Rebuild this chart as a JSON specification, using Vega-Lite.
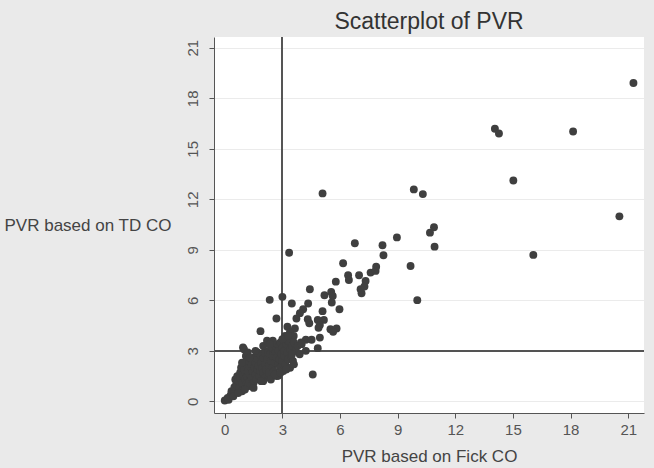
{
  "$schema": "https://vega.github.io/schema/vega-lite/v6.json",
  "autosize": "none",
  "width": 430,
  "height": 376,
  "padding": {"left": 214, "top": 37, "right": 10, "bottom": 55},
  "background": "#eaeaea",
  "title": {
    "text": "Scatterplot of PVR",
    "anchor": "middle",
    "font": "Liberation Sans",
    "fontSize": 23,
    "fontWeight": "normal",
    "color": "#333333",
    "offset": 3
  },
  "config": {
    "view": {"fill": "#ffffff", "stroke": null},
    "axis": {
      "labelFont": "Liberation Sans",
      "titleFont": "Liberation Sans",
      "labelFontSize": 15,
      "titleFontSize": 17,
      "titleFontWeight": "normal",
      "labelColor": "#555555",
      "titleColor": "#444444",
      "domainColor": "#555555",
      "tickColor": "#555555",
      "tickSize": 5
    }
  },
  "data": {
    "values": [
      {"fick": 21.27, "td": 18.91}, {"fick": 14.06, "td": 16.19}, {"fick": 14.27, "td": 15.91}, {"fick": 18.13, "td": 16.03},
      {"fick": 15.02, "td": 13.12}, {"fick": 20.54, "td": 10.99}, {"fick": 16.06, "td": 8.70}, {"fick": 9.84, "td": 12.59},
      {"fick": 10.31, "td": 12.31}, {"fick": 5.09, "td": 12.35}, {"fick": 10.89, "td": 10.34}, {"fick": 10.68, "td": 10.02},
      {"fick": 10.92, "td": 9.19}, {"fick": 8.96, "td": 9.74}, {"fick": 9.67, "td": 8.04}, {"fick": 10.02, "td": 6.01},
      {"fick": 6.77, "td": 9.39}, {"fick": 8.21, "td": 9.27}, {"fick": 8.26, "td": 8.68}, {"fick": 3.35, "td": 8.83},
      {"fick": 6.16, "td": 8.20}, {"fick": 7.88, "td": 8.00}, {"fick": 7.59, "td": 7.65}, {"fick": 7.85, "td": 7.75},
      {"fick": 6.42, "td": 7.49}, {"fick": 6.46, "td": 7.21}, {"fick": 6.99, "td": 7.49}, {"fick": 7.33, "td": 7.15},
      {"fick": 7.07, "td": 6.66}, {"fick": 7.27, "td": 6.82}, {"fick": 7.12, "td": 6.42}, {"fick": 5.78, "td": 7.11},
      {"fick": 4.43, "td": 6.66}, {"fick": 5.54, "td": 6.50}, {"fick": 5.19, "td": 6.30}, {"fick": 5.62, "td": 6.26},
      {"fick": 5.57, "td": 5.87}, {"fick": 5.97, "td": 5.47}, {"fick": 5.09, "td": 5.36}, {"fick": 3.00, "td": 6.21},
      {"fick": 2.34, "td": 6.03}, {"fick": 3.49, "td": 5.81}, {"fick": 4.34, "td": 5.81}, {"fick": 4.08, "td": 5.47},
      {"fick": 3.91, "td": 5.24}, {"fick": 3.73, "td": 4.92}, {"fick": 2.69, "td": 4.92}, {"fick": 4.32, "td": 4.88},
      {"fick": 4.84, "td": 4.84}, {"fick": 5.16, "td": 4.84}, {"fick": 4.40, "td": 4.64}, {"fick": 4.95, "td": 4.53},
      {"fick": 4.88, "td": 4.37}, {"fick": 5.50, "td": 4.29}, {"fick": 5.82, "td": 4.33}, {"fick": 5.64, "td": 4.13},
      {"fick": 1.86, "td": 4.17}, {"fick": 3.26, "td": 4.43}, {"fick": 3.65, "td": 4.33}, {"fick": 3.39, "td": 4.09},
      {"fick": 3.59, "td": 3.89}, {"fick": 3.14, "td": 3.89}, {"fick": 4.22, "td": 3.66}, {"fick": 4.52, "td": 3.66},
      {"fick": 4.95, "td": 3.79}, {"fick": 3.97, "td": 3.50}, {"fick": 4.84, "td": 3.16}, {"fick": 4.22, "td": 3.00},
      {"fick": 4.58, "td": 1.60}, {"fick": 2.78, "td": 1.52}, {"fick": 0.95, "td": 3.20},
      {"fick": 0.0, "td": 0.05}, {"fick": 0.15, "td": 0.2}, {"fick": 0.3, "td": 0.35}, {"fick": 0.35, "td": 0.6},
      {"fick": 0.5, "td": 0.5}, {"fick": 0.5, "td": 0.85}, {"fick": 0.6, "td": 1.0}, {"fick": 0.55, "td": 1.3},
      {"fick": 0.65, "td": 1.5}, {"fick": 0.7, "td": 1.2}, {"fick": 0.75, "td": 0.8}, {"fick": 0.8, "td": 1.7},
      {"fick": 0.8, "td": 1.4}, {"fick": 0.85, "td": 2.0}, {"fick": 0.9, "td": 1.1}, {"fick": 0.95, "td": 1.6},
      {"fick": 1.0, "td": 1.9}, {"fick": 1.0, "td": 2.3}, {"fick": 1.05, "td": 1.3}, {"fick": 1.1, "td": 2.7},
      {"fick": 1.1, "td": 1.0}, {"fick": 1.15, "td": 1.5}, {"fick": 1.2, "td": 2.1}, {"fick": 1.2, "td": 1.8},
      {"fick": 1.25, "td": 2.4}, {"fick": 1.3, "td": 1.2}, {"fick": 1.3, "td": 1.6}, {"fick": 1.35, "td": 2.0},
      {"fick": 1.4, "td": 2.2}, {"fick": 1.4, "td": 1.4}, {"fick": 1.45, "td": 1.8}, {"fick": 1.5, "td": 2.6},
      {"fick": 1.5, "td": 1.1}, {"fick": 1.55, "td": 2.0}, {"fick": 1.6, "td": 2.3}, {"fick": 1.6, "td": 1.6},
      {"fick": 1.65, "td": 1.3}, {"fick": 1.7, "td": 1.9}, {"fick": 1.7, "td": 2.5}, {"fick": 1.75, "td": 2.1},
      {"fick": 1.8, "td": 1.5}, {"fick": 1.8, "td": 2.8}, {"fick": 1.85, "td": 1.8}, {"fick": 1.9, "td": 2.3},
      {"fick": 1.95, "td": 2.0}, {"fick": 2.0, "td": 1.7}, {"fick": 2.0, "td": 2.6}, {"fick": 2.05, "td": 2.9},
      {"fick": 2.1, "td": 2.2}, {"fick": 2.1, "td": 1.4}, {"fick": 2.15, "td": 1.9}, {"fick": 2.2, "td": 2.5},
      {"fick": 2.25, "td": 3.0}, {"fick": 2.3, "td": 2.1}, {"fick": 2.3, "td": 1.7}, {"fick": 2.35, "td": 2.8},
      {"fick": 2.4, "td": 2.4}, {"fick": 2.45, "td": 3.2}, {"fick": 2.5, "td": 2.0}, {"fick": 2.5, "td": 2.7},
      {"fick": 2.55, "td": 1.8}, {"fick": 2.6, "td": 3.3}, {"fick": 2.6, "td": 2.3}, {"fick": 2.65, "td": 2.9},
      {"fick": 2.7, "td": 2.6}, {"fick": 2.7, "td": 1.5}, {"fick": 2.75, "td": 3.4}, {"fick": 2.8, "td": 2.2},
      {"fick": 2.8, "td": 3.0}, {"fick": 2.85, "td": 2.5}, {"fick": 2.9, "td": 2.0}, {"fick": 2.9, "td": 3.5},
      {"fick": 2.95, "td": 2.8}, {"fick": 3.0, "td": 2.4}, {"fick": 3.0, "td": 3.2}, {"fick": 3.05, "td": 1.8},
      {"fick": 3.1, "td": 2.7}, {"fick": 3.1, "td": 3.0}, {"fick": 3.15, "td": 2.2}, {"fick": 3.2, "td": 3.4},
      {"fick": 3.25, "td": 2.9}, {"fick": 3.3, "td": 2.5}, {"fick": 3.3, "td": 3.6}, {"fick": 3.4, "td": 3.1},
      {"fick": 3.45, "td": 2.7}, {"fick": 3.5, "td": 3.3}, {"fick": 3.55, "td": 2.4}, {"fick": 3.6, "td": 3.5},
      {"fick": 3.7, "td": 3.0}, {"fick": 3.8, "td": 3.3}, {"fick": 3.9, "td": 2.8}, {"fick": 4.0, "td": 3.4},
      {"fick": 0.2, "td": 0.1}, {"fick": 0.45, "td": 0.3}, {"fick": 0.9, "td": 0.6}, {"fick": 1.2, "td": 0.9},
      {"fick": 2.0, "td": 1.2}, {"fick": 2.4, "td": 1.3}, {"fick": 3.4, "td": 2.0}, {"fick": 3.6, "td": 2.2},
      {"fick": 1.0, "td": 3.1}, {"fick": 1.7, "td": 2.9},
      {"fick": 1.2, "td": 2.9}, {"fick": 1.6, "td": 3.0}, {"fick": 2.0, "td": 3.3}, {"fick": 2.2, "td": 3.6},
      {"fick": 2.5, "td": 3.6}, {"fick": 3.0, "td": 3.7}, {"fick": 2.6, "td": 1.6}, {"fick": 2.9, "td": 1.7},
      {"fick": 3.2, "td": 1.9}, {"fick": 1.9, "td": 1.2}, {"fick": 1.5, "td": 0.8}, {"fick": 0.7, "td": 0.5},
      {"fick": 3.5, "td": 2.8}, {"fick": 3.3, "td": 3.9}, {"fick": 1.3, "td": 2.6}, {"fick": 0.9, "td": 2.3},
      {"fick": 2.35, "td": 3.4}, {"fick": 1.05, "td": 0.7}
    ]
  },
  "layer": [
    {
      "mark": {"type": "rule", "color": "#555555", "strokeWidth": 1},
      "encoding": {"x": {"datum": 3, "type": "quantitative"}}
    },
    {
      "mark": {"type": "rule", "color": "#555555", "strokeWidth": 1},
      "encoding": {"y": {"datum": 3, "type": "quantitative"}}
    },
    {
      "mark": {"type": "circle", "size": 62, "color": "#3f3f3f", "opacity": 1},
      "encoding": {
        "x": {
          "field": "fick",
          "type": "quantitative",
          "scale": {"domain": [-0.56, 21.82], "nice": false, "zero": false},
          "axis": {
            "title": "PVR based on Fick CO",
            "values": [0, 3, 6, 9, 12, 15, 18, 21],
            "grid": false,
            "labelPadding": 4,
            "titlePadding": 11
          }
        },
        "y": {
          "field": "td",
          "type": "quantitative",
          "scale": {"domain": [-0.69, 21.64], "nice": false, "zero": false},
          "axis": {
            "title": "PVR based on TD CO",
            "values": [0, 3, 6, 9, 12, 15, 18, 21],
            "grid": true,
            "gridColor": "#ebebeb",
            "labelAngle": -90,
            "labelAlign": "center",
            "labelBaseline": "bottom",
            "labelPadding": 9,
            "titleAngle": 0,
            "titleAlign": "left",
            "titleBaseline": "middle",
            "titleX": -210,
            "titleY": 188
          }
        }
      }
    }
  ]
}
